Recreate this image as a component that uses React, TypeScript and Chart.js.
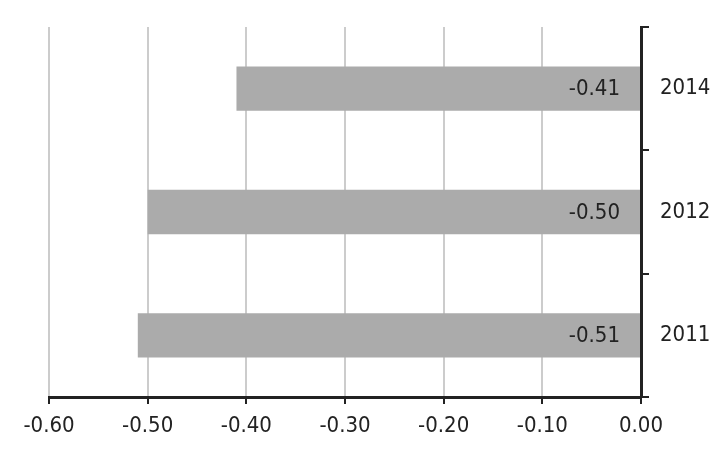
import React, { useEffect, useRef } from "react";
import { Chart, registerables } from "chart.js";

Chart.register(...registerables);

const years = ["2014", "2012", "2011"];
const values = [-0.41, -0.5, -0.51];
const xMin = -0.6;
const xMax = 0;
const xStep = 0.1;

const FONT = "'DejaVu Sans Condensed', 'Liberation Sans Narrow', sans-serif";

const valueLabels = {
  id: "valueLabels",
  afterDatasetsDraw(chart: any) {
    const ctx = chart.ctx;
    const meta = chart.getDatasetMeta(0);
    ctx.save();
    ctx.font = `condensed 22px ${FONT}`;
    ctx.fillStyle = "#222";
    ctx.textAlign = "right";
    ctx.textBaseline = "middle";
    meta.data.forEach((bar: any, i: number) => {
      const v = chart.data.datasets[0].data[i] as number;
      ctx.fillText(v.toFixed(2), bar.base - 20, bar.y + 1);
    });
    ctx.restore();
  },
};

export default function App() {
  const ref = useRef<HTMLCanvasElement | null>(null);
  useEffect(() => {
    if (!ref.current) return;
    const chart = new Chart(ref.current, {
      type: "bar",
      data: {
        labels: years,
        datasets: [
          {
            data: values,
            backgroundColor: "#ababab",
            borderWidth: 0,
            barPercentage: 0.36,
            categoryPercentage: 1,
          },
        ],
      },
      options: {
        indexAxis: "y",
        animation: false,
        responsive: false,
        maintainAspectRatio: false,
        layout: { padding: { top: 27, left: 49, right: 0, bottom: 0 } },
        plugins: { legend: { display: false }, tooltip: { enabled: false } },
        scales: {
          x: {
            min: xMin,
            max: xMax,
            ticks: {
              stepSize: xStep,
              color: "#222",
              font: { family: FONT, size: 22, style: "condensed" as any },
              padding: 9,
              callback: (v: any) => Number(v).toFixed(2),
            },
            grid: {
              color: "#cccccc",
              lineWidth: 2,
              tickColor: "#222",
              tickLength: 7,
              drawTicks: true,
            },
            border: { display: true, color: "#222", width: 3 },
            afterFit: (s: any) => {
              s.height = 65;
            },
          },
          y: {
            position: "right",
            offset: true,
            ticks: {
              color: "#222",
              font: { family: FONT, size: 22, style: "condensed" as any },
              padding: 11,
            },
            grid: {
              offset: true,
              drawOnChartArea: false,
              drawTicks: true,
              tickLength: 8,
              tickColor: "#222",
              lineWidth: 2,
            },
            border: { display: true, color: "#222", width: 3 },
            afterFit: (s: any) => {
              s.width = 87;
            },
          },
        },
      },
      plugins: [valueLabels],
    });
    return () => chart.destroy();
  }, []);
  return (
    <div style={{ position: "fixed", left: 0, top: 0, width: 728, height: 462, background: "#fff" }}>
      <canvas ref={ref} width={728} height={462} style={{ width: 728, height: 462 }} />
    </div>
  );
}
